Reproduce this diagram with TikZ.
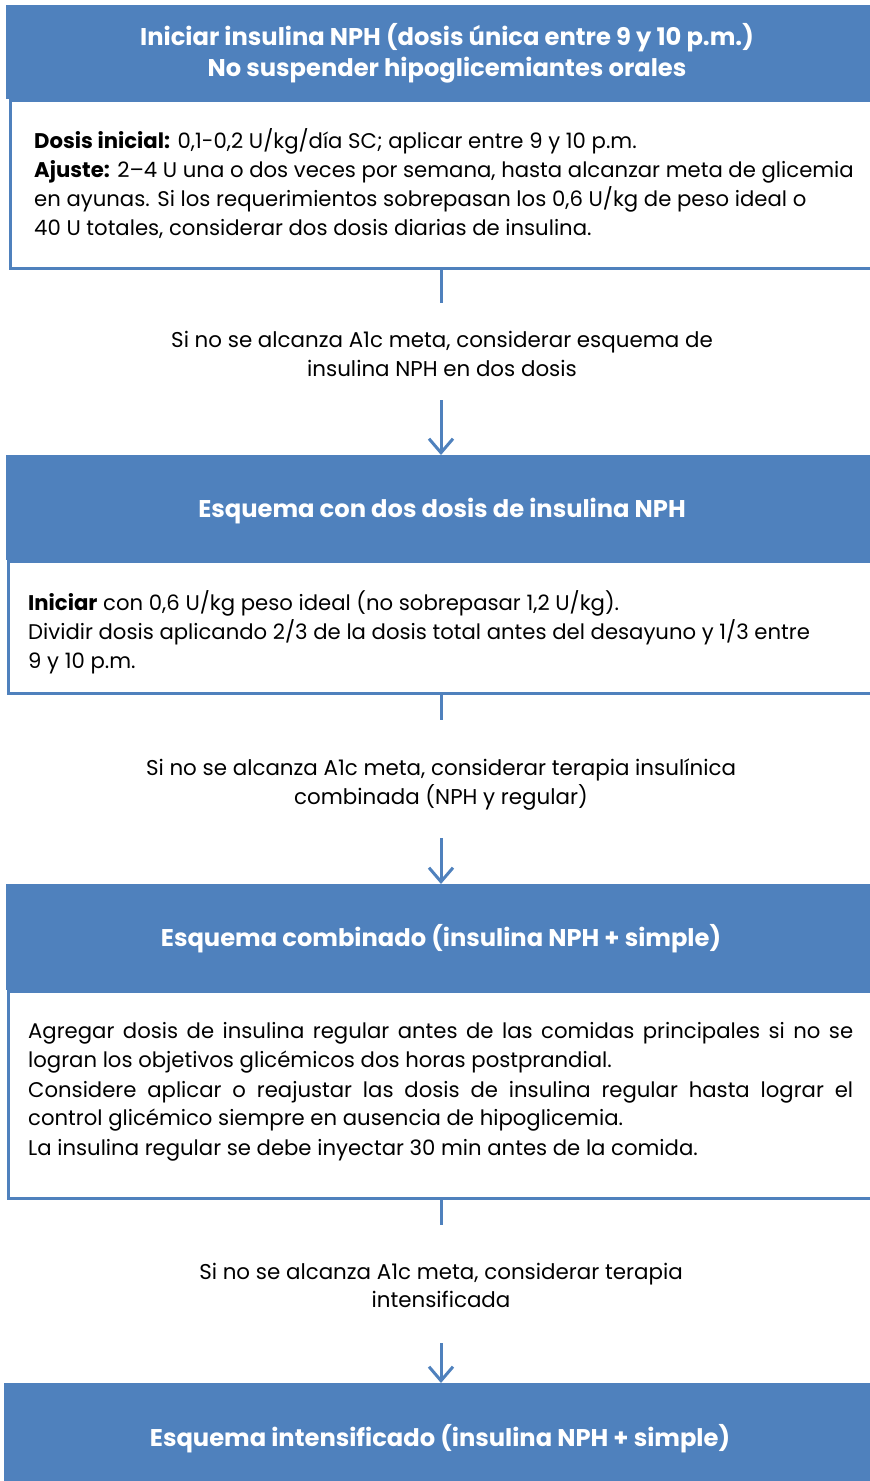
\documentclass[tikz,border=0pt]{standalone}
\usepackage{fontspec}
\setmainfont{Poppins}
\usetikzlibrary{arrows.meta}
\definecolor{hblue}{HTML}{4F81BD}
\tikzset{
  hdr/.style={fill=hblue, draw=none, inner sep=0pt, anchor=north west},
  bodybox/.style={fill=white, draw=hblue, line width=2.5pt, inner sep=0pt, anchor=north west},
  ttl/.style={text=white, font=\fontsize{24.2}{28}\selectfont\bfseries, inner sep=0pt, anchor=base},
  body/.style={text=black, font=\fontsize{21.2}{25}\selectfont, inner sep=0pt, anchor=base west},
  mid/.style={text=black, font=\fontsize{21.4}{25}\selectfont, inner sep=0pt, anchor=base},
  conn/.style={draw=hblue, line width=3pt},
  arr/.style={draw=hblue, line width=3pt, -{Straight Barb[length=14pt,width=24pt,line width=3pt]}}
}
\begin{document}
\begin{tikzpicture}[x=1pt,y=-1pt]
\useasboundingbox (0,0) rectangle (870,1481);
\clip (0,0) rectangle (870,1481);
% Box 1
\node[bodybox, minimum width=900pt, minimum height=168pt] (b1) at (9,99) {};
\node[hdr, minimum width=900pt, minimum height=94pt] (h1) at (6,5) {};
\node[ttl] (h1a) at (447,45) {Iniciar insulina NPH (dosis única entre 9 y 10 p.m.)};
\node[ttl] (h1b) at (447,76) {No suspender hipoglicemiantes orales};
\node[body] (t1a) at (34,148) {\textbf{Dosis inicial:} 0,1-0,2 U/kg/día SC; aplicar entre 9 y 10 p.m.};
\node[body] (t1b) at (34,177) {\textbf{Ajuste:} 2–4 U una o dos veces por semana, hasta alcanzar meta de glicemia};
\node[body] (t1c) at (34,206) {en ayunas. Si los requerimientos sobrepasan los 0,6 U/kg de peso ideal o};
\node[body] (t1d) at (34,235) {40 U totales, considerar dos dosis diarias de insulina.};
% Connector 1
\coordinate (c1e) at (441,303);
\draw[conn] (b1.south -| c1e) -- (c1e);
\node[mid] (m1a) at (442,347) {Si no se alcanza A1c meta, considerar esquema de};
\node[mid] (m1b) at (442,376) {insulina NPH en dos dosis};
\coordinate (c1s) at (441,400);
% Box 2
\node[bodybox, minimum width=900pt, minimum height=132pt] (b2) at (7,560) {};
\node[hdr, minimum width=900pt, minimum height=105pt] (h2) at (6,455) {};
\draw[arr] (c1s) -- (h2.north -| c1s);
\node[ttl] (h2a) at (442,517.5) {Esquema con dos dosis de insulina NPH};
\node[body] (t2a) at (28,610) {\textbf{Iniciar} con 0,6 U/kg peso ideal (no sobrepasar 1,2 U/kg).};
\node[body] (t2b) at (28,639) {Dividir dosis aplicando 2/3 de la dosis total antes del desayuno y 1/3 entre};
\node[body] (t2c) at (28,668) {9 y 10 p.m.};
% Connector 2
\coordinate (c2e) at (441,720);
\draw[conn] (b2.south -| c2e) -- (c2e);
\node[mid] (m2a) at (441,775) {Si no se alcanza A1c meta, considerar terapia insulínica};
\node[mid] (m2b) at (441,804) {combinada (NPH y regular)};
\coordinate (c2s) at (441,838);
% Box 3
\node[bodybox, minimum width=900pt, minimum height=207pt] (b3) at (7,990) {};
\node[hdr, minimum width=900pt, minimum height=106pt] (h3) at (6,884) {};
\draw[arr] (c2s) -- (h3.north -| c2s);
\node[ttl] (h3a) at (441,946.5) {Esquema combinado (insulina NPH + simple)};
\node[body] (t3a) at (28,1038) {\makebox[825pt][s]{Agregar dosis de insulina regular antes de las comidas principales si no se}};
\node[body] (t3b) at (28,1067) {logran los objetivos glicémicos dos horas postprandial.};
\node[body] (t3c) at (28,1097) {\makebox[825pt][s]{Considere aplicar o reajustar las dosis de insulina regular hasta lograr el}};
\node[body] (t3d) at (28,1125) {control glicémico siempre en ausencia de hipoglicemia.};
\node[body] (t3e) at (28,1155) {La insulina regular se debe inyectar 30 min antes de la comida.};
% Connector 3
\coordinate (c3e) at (441,1225);
\draw[conn] (b3.south -| c3e) -- (c3e);
\node[mid] (m3a) at (441,1279) {Si no se alcanza A1c meta, considerar terapia};
\node[mid] (m3b) at (441,1307) {intensificada};
\coordinate (c3s) at (441,1343);
% Box 4
\node[hdr, minimum width=900pt, minimum height=110pt] (h4) at (4,1383) {};
\draw[arr] (c3s) -- (h4.north -| c3s);
\node[ttl] (h4a) at (440,1446.5) {Esquema intensificado (insulina NPH + simple)};
\end{tikzpicture}
\end{document}
